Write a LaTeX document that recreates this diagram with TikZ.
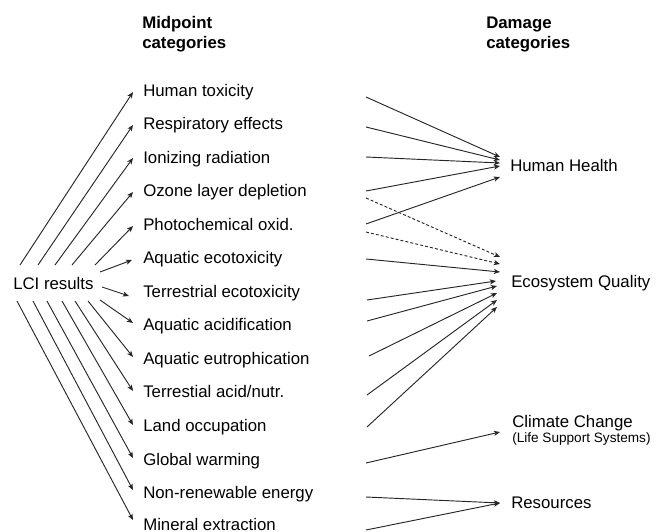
\documentclass[tikz,border=0pt]{standalone}
\usepackage{fontspec}
\setmainfont{Liberation Sans}
\usetikzlibrary{arrows.meta}
\begin{document}
\begin{tikzpicture}[x=0.75pt,y=-0.75pt,
  lbl/.style={anchor=base west,inner sep=0pt,font=\fontsize{12.6}{15}\selectfont},
  twolbl/.style={anchor=base west,inner sep=0pt,align=left,font=\fontsize{12.6}{9}\selectfont},
  hdr/.style={anchor=base west,inner sep=0pt,align=left,font=\bfseries\fontsize{12.6}{14.6}\selectfont},
  conn/.style={draw=black!85,line width=0.7pt,-{Stealth[length=4.6pt,width=3.8pt,inset=1.2pt]}},
  dconn/.style={conn,dash pattern=on 2.2pt off 1.6pt}]
\useasboundingbox (0,0) rectangle (657,532);

% headers
\node[hdr] (hmid) at (142,48) {Midpoint\\categories};
\node[hdr] (hdam) at (486,48) {Damage\\categories};

% LCI
\node[lbl] (lci) at (13,289) {LCI results};

% midpoint labels
\node[lbl] (m1)  at (143,96)    {Human toxicity};
\node[lbl] (m2)  at (143,129.5) {Respiratory effects};
\node[lbl] (m3)  at (143,163)   {Ionizing radiation};
\node[lbl] (m4)  at (143,196.5) {Ozone layer depletion};
\node[lbl] (m5)  at (143,230)   {Photochemical oxid.};
\node[lbl] (m6)  at (143,263.5) {Aquatic ecotoxicity};
\node[lbl] (m7)  at (143,297)   {Terrestrial ecotoxicity};
\node[lbl] (m8)  at (143,330.5) {Aquatic acidification};
\node[lbl] (m9)  at (143,364)   {Aquatic eutrophication};
\node[lbl] (m10) at (143,397.5) {Terrestial acid/nutr.};
\node[lbl] (m11) at (143,431)   {Land occupation};
\node[lbl] (m12) at (143,465)   {Global warming};
\node[lbl] (m13) at (143,498)   {Non-renewable energy};
\node[lbl] (m14) at (143,530.5) {Mineral extraction};

% damage labels
\node[lbl] (hh)  at (510,171) {Human Health};
\node[lbl] (eq)  at (511,287) {Ecosystem Quality};
\node[twolbl] (cc) at (512,442) {Climate Change\\{\fontsize{10.2}{9}\selectfont(Life Support Systems)}};
\node[lbl] (res) at (511,508) {Resources};

% left connector end points (LCI side -> midpoint tips)
\coordinate (s1) at (20,265);   \coordinate (a1) at (133,92);
\coordinate (s2) at (38,265);   \coordinate (a2) at (133,125);
\coordinate (s3) at (55,265);   \coordinate (a3) at (133,158);
\coordinate (s4) at (72,265);   \coordinate (a4) at (133,192);
\coordinate (s5) at (95,265);   \coordinate (a5) at (133,226);
\coordinate (s6) at (100,272);  \coordinate (a6) at (132,260);
\coordinate (s7) at (102,287);  \coordinate (a7) at (129,296);
\coordinate (s8) at (100,300);  \coordinate (a8) at (133,323);
\coordinate (s9) at (88,301);   \coordinate (a9) at (133,357);
\coordinate (s10) at (75,301);  \coordinate (a10) at (133,391);
\coordinate (s11) at (62,301);  \coordinate (a11) at (133,425);
\coordinate (s12) at (47,301);  \coordinate (a12) at (133,458);
\coordinate (s13) at (33,301);  \coordinate (a13) at (133,490);
\coordinate (s14) at (17,301);  \coordinate (a14) at (133,520);

\foreach \i in {1,...,14} {\draw[conn] (s\i) -- (a\i);}

% right connector tails
\coordinate (r1) at (366,97);
\coordinate (r2) at (366,127);
\coordinate (r3) at (366,157);
\coordinate (r4) at (366,191);
\coordinate (r4d) at (366,198);
\coordinate (r5) at (366,224);
\coordinate (r5d) at (366,232);
\coordinate (r6) at (366,259);
\coordinate (r7) at (367,300);
\coordinate (r8) at (367,321);
\coordinate (r9) at (369,356);
\coordinate (r10) at (367,395);
\coordinate (r11) at (367,427);
\coordinate (r12) at (366,463);
\coordinate (r13) at (366,497);
\coordinate (r14) at (366,530);

% damage tips
\coordinate (hh1) at (500,157);
\coordinate (hh2) at (500,160);
\coordinate (hh3) at (500,163);
\coordinate (hh4) at (500,166);
\coordinate (hh5) at (500,177);
\coordinate (eqd1) at (500,257);
\coordinate (eqd2) at (500,264);
\coordinate (eq1) at (500,272);
\coordinate (eq2) at (496,281);
\coordinate (eq3) at (497,286);
\coordinate (eq4) at (497,293);
\coordinate (eq5) at (497,300);
\coordinate (eq6) at (497,307);
\coordinate (cct) at (500,432);
\coordinate (rest) at (500,503);

\draw[conn] (r1) -- (hh1);
\draw[conn] (r2) -- (hh2);
\draw[conn] (r3) -- (hh3);
\draw[conn] (r4) -- (hh4);
\draw[conn] (r5) -- (hh5);
\draw[dconn] (r4d) -- (eqd1);
\draw[dconn] (r5d) -- (eqd2);
\draw[conn] (r6) -- (eq1);
\draw[conn] (r7) -- (eq2);
\draw[conn] (r8) -- (eq3);
\draw[conn] (r9) -- (eq4);
\draw[conn] (r10) -- (eq5);
\draw[conn] (r11) -- (eq6);
\draw[conn] (r12) -- (cct);
\draw[conn] (r13) -- (rest);
\draw[conn] (r14) -- (rest);
\end{tikzpicture}
\end{document}
